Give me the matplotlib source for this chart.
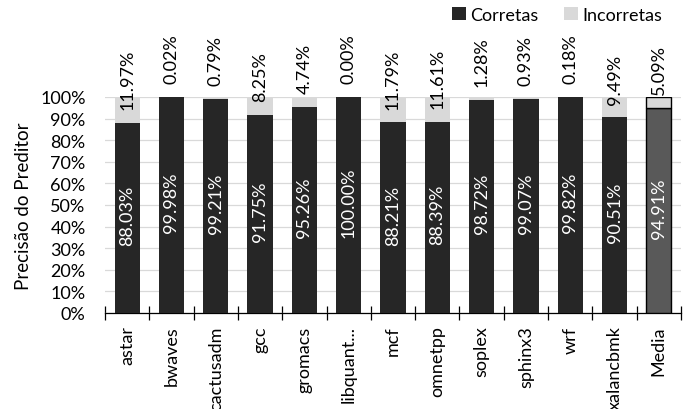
import matplotlib
matplotlib.use("Agg")
import matplotlib.pyplot as plt
import numpy as np

categories = ["astar", "bwaves", "cactusadm", "gcc", "gromacs", "libquant...", "mcf",
              "omnetpp", "soplex", "sphinx3", "wrf", "xalancbmk", "Media"]
corretas = [88.03, 99.98, 99.21, 91.75, 95.26, 100.00, 88.21, 88.39, 98.72, 99.07, 99.82, 90.51, 94.91]
incorretas = [11.97, 0.02, 0.79, 8.25, 4.74, 0.00, 11.79, 11.61, 1.28, 0.93, 0.18, 9.49, 5.09]
yticks = [0, 10, 20, 30, 40, 50, 60, 70, 80, 90, 100]

plt.rcParams['font.family'] = ['Lato', 'DejaVu Sans']
FS = 13

fig = plt.figure(figsize=(6.86, 4.10), dpi=100)
ax = fig.add_axes([105/686, 1-314/410, 576/686, 216/410])

x = np.arange(len(categories))
w = 0.57
n = len(categories)
c_colors = ['#262626'] * (n - 1) + ['#595959']
i_colors = ['#d9d9d9'] * n
edges = ['none'] * (n - 1) + ['black']
lw = [0] * (n - 1) + [1.0]

ax.bar(x, corretas, w, color=c_colors, edgecolor=edges, linewidth=lw, zorder=3, label='Corretas')
ax.bar(x, incorretas, w, bottom=corretas, color=i_colors, edgecolor=edges, linewidth=lw, zorder=3, label='Incorretas')

for xi, c, inc in zip(x, corretas, incorretas):
    ax.text(xi, c / 2 + 1.5, f"{c:.2f}%", rotation=90, ha='center', va='center',
            color='white', fontsize=FS, zorder=4)
    ax.annotate(f"{inc:.2f}%", xy=(xi, c), xytext=(0, 10), textcoords='offset points',
                rotation=90, ha='center', va='bottom', color='black', fontsize=FS,
                zorder=4, annotation_clip=False)

ax.set_xlim(-0.5, n - 0.5)
ax.set_ylim(0, 100)
ax.set_yticks(yticks)
ax.set_yticklabels([f"{t}%" for t in yticks], fontsize=FS)
ax.tick_params(axis='y', length=0, pad=14)
ax.yaxis.grid(True, color='#d9d9d9', linewidth=0.9, zorder=0)
ax.set_axisbelow(True)

ax.set_xticks(x)
ax.set_xticklabels(categories, rotation=90, fontsize=FS)
ax.tick_params(axis='x', length=0, pad=9)
ax.set_xticks(np.arange(-0.5, n, 1.0), minor=True)
ax.tick_params(axis='x', which='minor', length=9.5, direction='inout', width=0.9)

for s in ['top', 'right', 'left']:
    ax.spines[s].set_visible(False)
ax.spines['bottom'].set_color('black')
ax.spines['bottom'].set_linewidth(0.9)

ax.set_ylabel("Precisão do Preditor", fontsize=13.5, labelpad=6)

leg = fig.legend(loc='upper right', bbox_to_anchor=(662/686, 1-8/410), ncol=2, frameon=False,
                 fontsize=FS, handlelength=0.75, handleheight=0.75, handletextpad=0.25,
                 columnspacing=1.4, borderaxespad=0.0, borderpad=0.0)

fig.savefig("out.png", dpi=100)
